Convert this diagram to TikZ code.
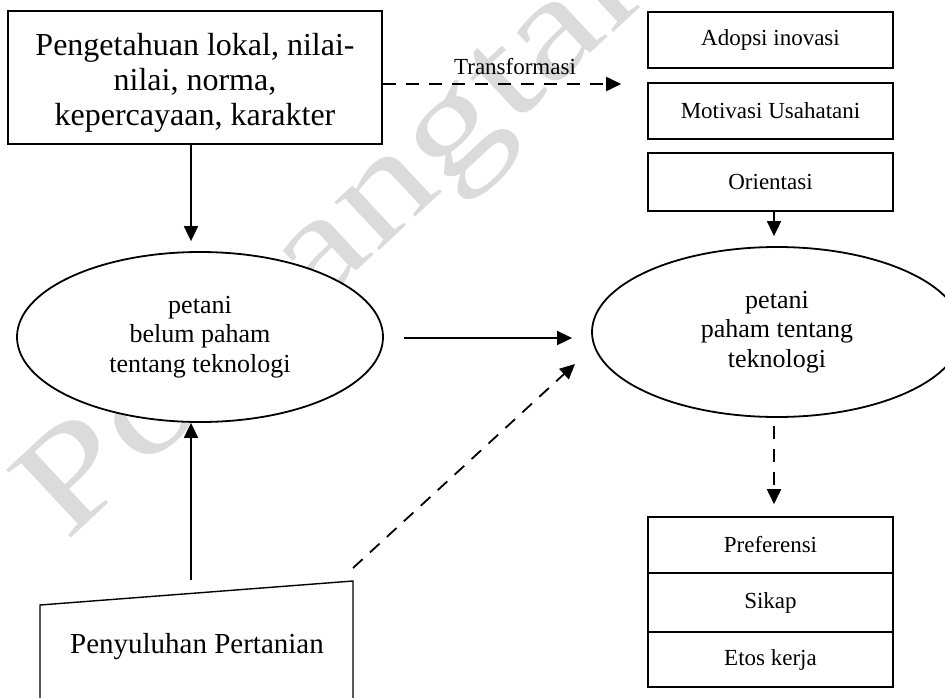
\documentclass[tikz,border=0pt]{standalone}
\usepackage{fontspec}
\setmainfont{Liberation Serif}
\usetikzlibrary{arrows.meta,shapes.geometric,calc}

\begin{document}
\begin{tikzpicture}[x=1pt,y=-1pt,
  box/.style={draw, line width=1.6pt, fill=white, inner sep=0pt},
  smallbox/.style={box, minimum width=245pt, font=\fontsize{23}{26}\selectfont},
  oval/.style={draw, ellipse, fill=white, line width=1.8pt, inner sep=0pt,
    align=center, font=\fontsize{26}{29.5}\selectfont},
  arr/.style={-{Triangle[length=15pt,width=14pt]}, line width=1.8pt},
  dasharr/.style={arr, dash pattern=on 13pt off 10pt},
]
\clip (0,0) rectangle (945,697);
\fill[white] (0,0) rectangle (945,697);

% faint watermark behind everything
\begin{scope}[shift={(349,232)}, rotate=43, xscale=1.3]
  \node[transform shape, text=black!14, inner sep=0pt,
    font=\fontsize{143}{150}\selectfont] (mark) at (0,0) {Polbangtan};
\end{scope}

% source box
\node[box, minimum width=374pt, minimum height=133pt] (know) at (195,77.5) {};
\node[align=center, inner sep=0pt, font=\fontsize{32}{35}\selectfont]
  (knowtext) at (195,83) {Pengetahuan lokal, nilai-\\nilai, norma,\\kepercayaan, karakter};

% the two farmer states
\node[oval, minimum width=366pt, minimum height=170pt] (ell1) at (200,337)
  {petani\\belum paham\\tentang teknologi};
\node[oval, minimum width=370pt, minimum height=170pt] (ell2) at (777,332)
  {petani\\paham tentang\\teknologi};

% upper right stack
\node[smallbox, minimum height=56pt] (adopsi) at (770.5,40) {Adopsi inovasi};
\node[smallbox, minimum height=56pt] (motiv) at (770.5,111) {Motivasi Usahatani};
\node[smallbox, minimum height=58pt] (orient) at (770.5,182) {Orientasi};

% lower right stack
\node[smallbox, minimum height=56pt] (pref) at (770.5,545) {Preferensi};
\node[smallbox, minimum height=59pt] (sikap) at (770.5,602.5) {Sikap};
\node[smallbox, minimum height=55pt] (etos) at (770.5,659.5) {Etos kerja};

% extension (manual input shape)
\coordinate (penTL) at (40,605);
\coordinate (penTR) at (353,581);
\coordinate (penBL) at (40,720);
\coordinate (penBR) at (353,720);
\draw[line width=1.4pt, fill=white] (penBL) -- (penTL) -- (penTR) -- (penBR);
\node[inner sep=0pt, font=\fontsize{29}{32}\selectfont] (pentext) at (197,647)
  {Penyuluhan Pertanian};

% connectors
\coordinate (penTop) at (191,580);
\coordinate (diagEnd) at (575,364);
\draw[arr, shorten >=10pt] ([xshift=-4pt]know.south) -- ([xshift=-9pt]ell1.north);
\draw[arr] (penTop) -- ([xshift=-9pt]ell1.south);
\draw[arr] ($(ell1.east)+(20,1)$) -- ($(ell2.west |- ell1.east)+(-19,1)$);
\draw[dasharr] ($(penTR)+(0,-13)$) -- (diagEnd);
\draw[dasharr] ($(know.east)+(0,6.5)$) -- ($(know.east -| motiv.west)+(-26,6.5)$);
\node[inner sep=0pt, font=\fontsize{23}{26}\selectfont] (transf) at (515,67) {Transformasi};
\draw[arr, shorten >=10pt] ([xshift=3.5pt]orient.south) -- ([xshift=-3pt]ell2.north);
\draw[dasharr] ($(ell2.south)+(-3,8)$) -- ($(pref.north)+(3.5,-12)$);
\end{tikzpicture}
\end{document}
